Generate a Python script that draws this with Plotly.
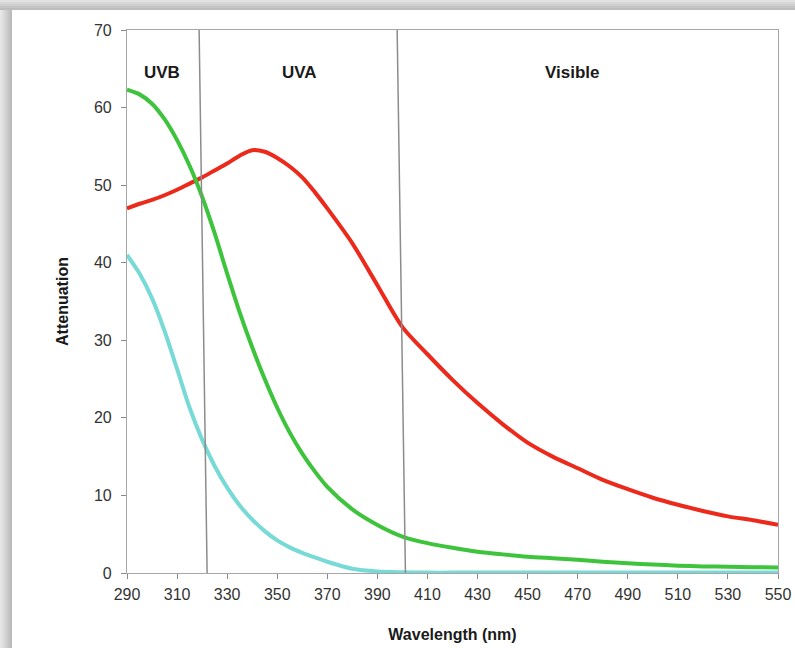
import plotly.graph_objects as go

wavelength = [290, 295, 300, 305, 310, 315, 320, 325, 330, 335, 340, 345, 350, 355, 360,
              365, 370, 380, 390, 400, 410, 420, 430, 440, 450, 460, 470, 480, 490, 500, 510,
              520, 530, 540, 550]

red_series = [47.0, 47.6, 48.1, 48.7, 49.4, 50.2, 51.0, 51.9, 52.8, 53.8, 54.5, 54.3, 53.5, 52.4, 51.0,
              49.1, 47.0, 42.5, 37.1, 31.7, 28.2, 24.9, 21.9, 19.2, 16.8, 15.0, 13.5, 12.0, 10.8, 9.7, 8.8,
              8.0, 7.3, 6.8, 6.2]

green_series = [62.3, 61.7, 60.5, 58.5, 55.8, 52.5, 48.5, 43.8, 38.6, 33.6, 29.1, 25.0, 21.3, 18.1, 15.4,
                13.1, 11.1, 8.2, 6.2, 4.7, 3.85, 3.25, 2.75, 2.4, 2.1, 1.9, 1.7, 1.45, 1.25, 1.1, 0.95,
                0.85, 0.8, 0.75, 0.7]

cyan_series = [41.0, 38.6, 35.4, 31.2, 26.3, 21.3, 17.2, 13.8, 11.0, 8.7, 6.9, 5.4, 4.2, 3.3, 2.6,
               2.0, 1.45, 0.55, 0.2, 0.1, 0.05, 0.05, 0.05, 0.05, 0.05, 0.05, 0.05, 0.05, 0.05, 0.05, 0.05,
               0.05, 0.05, 0.05, 0.05]

boundary_top = [318.8, 397.9]
boundary_bottom = [322.0, 401.2]

region_labels = ["UVB", "UVA", "Visible"]
region_label_x = [304, 359, 468]
region_label_y = 64.5

x_ticks = list(range(290, 551, 20))
y_ticks = list(range(0, 71, 10))

W, H = 795, 648
ML, MR, MT, MB = 127, 17, 30, 75
PW, PH = W - ML - MR, H - MT - MB

fig = go.Figure()
for ys, col in [(red_series, "#ec2a1c"), (green_series, "#3ec43c"), (cyan_series, "#78dad6")]:
    fig.add_trace(go.Scatter(x=wavelength, y=ys, mode="lines",
                             line=dict(color=col, width=4, shape="spline", smoothing=0.8),
                             showlegend=False, hoverinfo="skip"))

shapes = []
def px_x(p):
    return (p - ML) / PW
def px_y(p):
    return 1 - (p - MT) / PH

left_grays = ["#e6e6e6", "#dedede", "#d6d6d6", "#cdcdcd", "#c4c4c4", "#bababa"]
for i, g in enumerate(left_grays):
    shapes.append(dict(type="rect", xref="paper", yref="paper", layer="below",
                       x0=px_x(i * 2), x1=px_x(i * 2 + 2), y0=px_y(H), y1=px_y(0),
                       line=dict(width=0), fillcolor=g))
top_grays = ["#e2e2e2", "#d8d8d8", "#cecece", "#c4c4c4", "#bcbcbc"]
for i, g in enumerate(top_grays):
    shapes.append(dict(type="rect", xref="paper", yref="paper", layer="below",
                       x0=px_x(0), x1=px_x(W), y0=px_y(i * 2 + 2), y1=px_y(i * 2),
                       line=dict(width=0), fillcolor=g))

for xt, xb in zip(boundary_top, boundary_bottom):
    shapes.append(dict(type="line", xref="x", yref="y", x0=xt, y0=70, x1=xb, y1=0,
                       line=dict(color="#8c8c8c", width=1.5), layer="above"))

annotations = []
for lab, lx in zip(region_labels, region_label_x):
    annotations.append(dict(x=lx, y=region_label_y, xref="x", yref="y", text="<b>" + lab + "</b>",
                            showarrow=False,
                            font=dict(family="Liberation Sans, Arial", size=17, color="#1a1a1a"),
                            xanchor="center", yanchor="middle"))

fig.update_layout(
    width=W, height=H, autosize=False,
    margin=dict(l=ML, r=MR, t=MT, b=MB, autoexpand=False),
    paper_bgcolor="white", plot_bgcolor="white",
    shapes=shapes, annotations=annotations,
    font=dict(family="Liberation Sans, Arial", color="#333333"),
)
fig.update_xaxes(range=[290, 550], tickvals=x_ticks, ticktext=[str(v) for v in x_ticks],
                 automargin=False,
                 showgrid=False, zeroline=False, showline=True, mirror=True,
                 linecolor="#a6a6a6", linewidth=1.2, ticks="outside", ticklen=5, tickcolor="#888888",
                 ticklabelstandoff=2,
                 tickfont=dict(size=16, color="#333333"),
                 title=dict(text="<b>Wavelength (nm)</b>", standoff=26,
                            font=dict(size=16, color="#1a1a1a")))
fig.update_yaxes(range=[0, 70], tickvals=y_ticks, showgrid=False, zeroline=False,
                 automargin=False,
                 showline=True, mirror=True, linecolor="#a6a6a6", linewidth=1.2,
                 ticks="outside", ticklen=5, tickcolor="#888888",
                 ticklabelstandoff=6,
                 tickfont=dict(size=16, color="#333333"),
                 title=dict(text="<b>Attenuation</b>", standoff=21,
                            font=dict(size=16, color="#1a1a1a")))

fig.write_html("out.html", config={"displayModeBar": False},
               post_script="document.body.style.margin='0';")
